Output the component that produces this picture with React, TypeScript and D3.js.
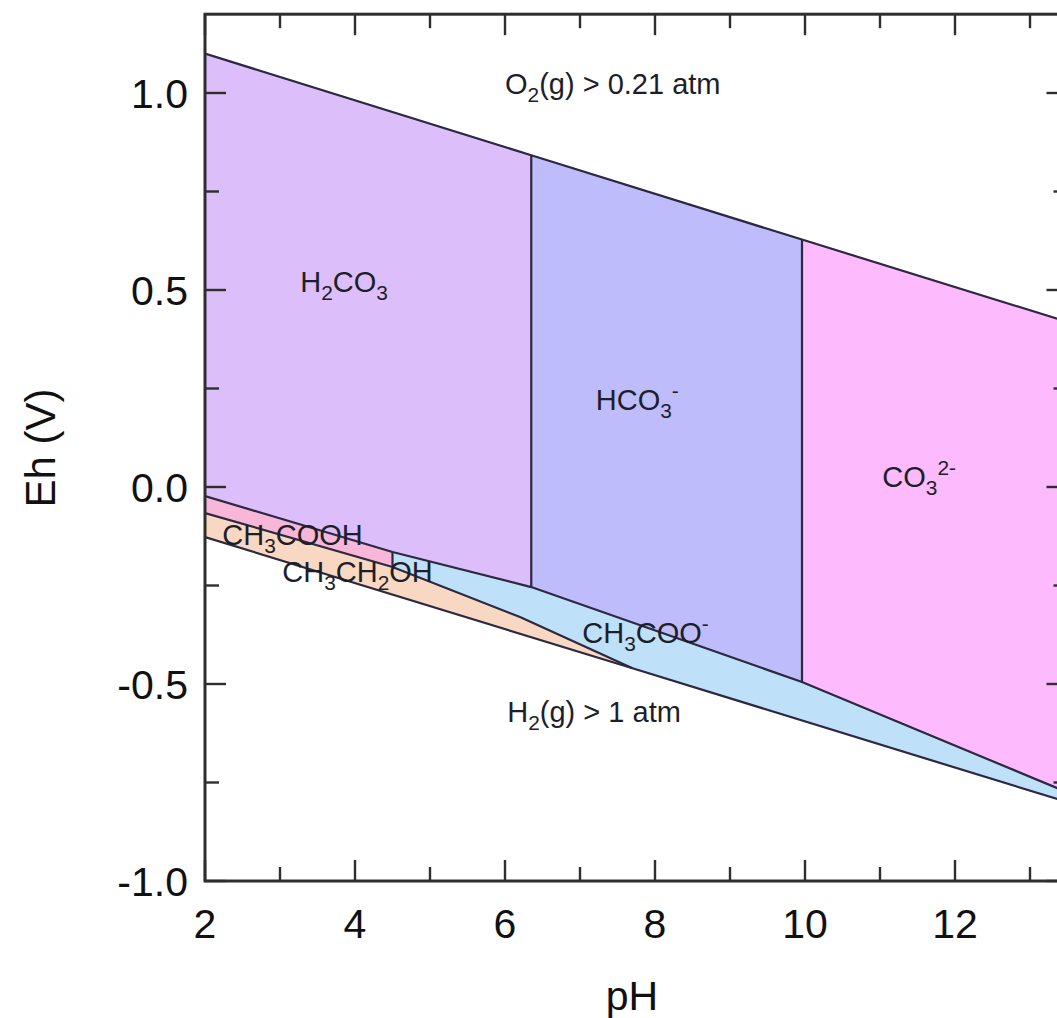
import React from "react";
import * as d3 from "d3";

const W = 1057;
const H = 1018;

// axes
const pHDomain: [number, number] = [2, 13.5];
const EhDomain: [number, number] = [-1.0, 1.2];
const xMajorTicks = [2, 4, 6, 8, 10, 12];
const xMinorTicks = [3, 5, 7, 9, 11, 13];
const yMajorTicks = [-1.0, -0.5, 0.0, 0.5, 1.0];
const yMinorTicks = [-0.75, -0.25, 0.25, 0.75];
const xTitle = "pH";
const yTitle = "Eh (V)";

// boundaries [pH, Eh]
const o2Line: [number, number][] = [[2, 1.1], [6.35, 0.842], [9.96, 0.628], [13.5, 0.419]];
const h2Line: [number, number][] = [[2, -0.127], [7.7, -0.46], [13.5, -0.8]];
const carbonateOrganic: [number, number][] = [[2, -0.023], [4.5, -0.165], [6.35, -0.254], [9.96, -0.495], [13.5, -0.775]];
const acidEthanol: [number, number][] = [[2, -0.066], [4.5, -0.203], [6.2, -0.33], [7.7, -0.46]];

// species fields
const speciesNames = ["H2CO3", "HCO3-", "CO3 2-", "CH3COOH", "CH3CH2OH", "CH3COO-"];
const speciesColors = ["#dcbefa", "#bebcfa", "#fdbafc", "#f8b6d8", "#f8d8c2", "#bee0f8"];

type Part = { t: string; s?: "sub" | "sup" };
// labels: parts, pH (start), Eh (baseline)
const labelParts: Part[][] = [
  [{ t: "O" }, { t: "2", s: "sub" }, { t: "(g) > 0.21 atm" }],
  [{ t: "H" }, { t: "2", s: "sub" }, { t: "CO" }, { t: "3", s: "sub" }],
  [{ t: "HCO" }, { t: "3", s: "sub" }, { t: "-", s: "sup" }],
  [{ t: "CO" }, { t: "3", s: "sub" }, { t: "2-", s: "sup" }],
  [{ t: "CH" }, { t: "3", s: "sub" }, { t: "COOH" }],
  [{ t: "CH" }, { t: "3", s: "sub" }, { t: "CH" }, { t: "2", s: "sub" }, { t: "OH" }],
  [{ t: "CH" }, { t: "3", s: "sub" }, { t: "COO" }, { t: "-", s: "sup" }],
  [{ t: "H" }, { t: "2", s: "sub" }, { t: "(g) > 1 atm" }],
];
const labelPH = [6.0, 3.27, 7.21, 11.03, 2.23, 3.03, 7.03, 6.03];
const labelEh = [0.997, 0.495, 0.195, 0.0, -0.147, -0.241, -0.396, -0.596];

const x = d3.scaleLinear().domain(pHDomain).range([205, 1067.5]);
const y = d3.scaleLinear().domain(EhDomain).range([881, 14.2]);

const line = d3
  .line<[number, number]>()
  .x((d) => x(d[0]))
  .y((d) => y(d[1]));

const rev = (a: [number, number][]) => a.slice().reverse();

const polygons: [number, number][][] = [
  [...o2Line.slice(0, 2), ...rev(carbonateOrganic.slice(0, 3))],
  [...o2Line.slice(1, 3), ...rev(carbonateOrganic.slice(2, 4))],
  [...o2Line.slice(2, 4), ...rev(carbonateOrganic.slice(3, 5))],
  [...carbonateOrganic.slice(0, 2), ...rev(acidEthanol.slice(0, 2))],
  [...acidEthanol, ...rev(h2Line.slice(0, 2))],
  [...carbonateOrganic.slice(1, 5), ...rev(h2Line.slice(1, 3)), ...rev(acidEthanol.slice(1, 4))],
];

const boundaryLines: [number, number][][] = [
  o2Line,
  h2Line,
  carbonateOrganic,
  acidEthanol,
  [carbonateOrganic[1], acidEthanol[1]],
  [o2Line[1], carbonateOrganic[2]],
  [o2Line[2], carbonateOrganic[3]],
];

const FONT = "'Liberation Sans', Arial, Helvetica, sans-serif";

function ChemLabel({ parts, px, py, size }: { parts: Part[]; px: number; py: number; size: number }) {
  const small = size * 0.72;
  let cur = 0;
  const spans = parts.map((p, i) => {
    const target = p.s === "sub" ? size * 0.28 : p.s === "sup" ? -size * 0.42 : 0;
    const dy = target - cur;
    cur = target;
    return (
      <tspan key={i} dy={dy} fontSize={p.s ? small : size}>
        {p.t}
      </tspan>
    );
  });
  return (
    <text x={px} y={py} fontFamily={FONT} fill="#1e1e2a">
      {spans}
    </text>
  );
}

export default function App() {
  const [x0, x1] = x.range();
  const [yb, yt] = y.range();
  const axisColor = "#2e2e2e";
  const major = 21;
  const minor = 14;
  return (
    <svg
      width={W}
      height={H}
      style={{ position: "absolute", left: 0, top: 0, background: "#fff" }}
      xmlns="http://www.w3.org/2000/svg"
    >
      <defs>
        <clipPath id="plotClip">
          <rect x={x0} y={yt} width={x1 - x0} height={yb - yt} />
        </clipPath>
      </defs>
      <rect x={0} y={0} width={W} height={H} fill="#fff" />
      <g clipPath="url(#plotClip)">
        {polygons.map((p, i) => (
          <path key={speciesNames[i]} d={line(p) + "Z"} fill={speciesColors[i]} stroke="none" />
        ))}
        {boundaryLines.map((l, i) => (
          <path key={i} d={line(l) ?? ""} fill="none" stroke="#2c2840" strokeWidth={2.2} />
        ))}
      </g>

      {labelParts.map((parts, i) => (
        <ChemLabel key={i} parts={parts} px={x(labelPH[i])} py={y(labelEh[i])} size={29} />
      ))}

      {/* ticks */}
      <g stroke={axisColor} strokeWidth={2.4}>
        {xMajorTicks.map((t) => (
          <g key={"xM" + t}>
            <line x1={x(t)} x2={x(t)} y1={yb} y2={yb - major} />
            <line x1={x(t)} x2={x(t)} y1={yt} y2={yt + major} />
          </g>
        ))}
        {xMinorTicks.map((t) => (
          <g key={"xm" + t}>
            <line x1={x(t)} x2={x(t)} y1={yb} y2={yb - minor} />
            <line x1={x(t)} x2={x(t)} y1={yt} y2={yt + minor} />
          </g>
        ))}
        {yMajorTicks.map((t) => (
          <g key={"yM" + t}>
            <line x1={x0} x2={x0 + major} y1={y(t)} y2={y(t)} />
            <line x1={x1} x2={x1 - major} y1={y(t)} y2={y(t)} />
          </g>
        ))}
        {yMinorTicks.map((t) => (
          <g key={"ym" + t}>
            <line x1={x0} x2={x0 + minor} y1={y(t)} y2={y(t)} />
            <line x1={x1} x2={x1 - minor} y1={y(t)} y2={y(t)} />
          </g>
        ))}
      </g>
      <rect x={x0} y={yt} width={x1 - x0} height={yb - yt} fill="none" stroke={axisColor} strokeWidth={3} />

      {/* tick labels */}
      {xMajorTicks.map((t) => (
        <text key={"xl" + t} x={x(t)} y={938} textAnchor="middle" fontFamily={FONT} fontSize={41} fill="#111">
          {String(t)}
        </text>
      ))}
      {yMajorTicks.map((t) => (
        <text
          key={"yl" + t}
          x={188}
          y={y(t)}
          dy="0.36em"
          textAnchor="end"
          fontFamily={FONT}
          fontSize={41}
          fill="#111"
        >
          {d3.format(".1f")(t).replace("−", "-")}
        </text>
      ))}
      <text x={632} y={1010} textAnchor="middle" fontFamily={FONT} fontSize={41} fill="#111">
        {xTitle}
      </text>
      <text
        transform={`translate(55, ${448}) rotate(-90)`}
        textAnchor="middle"
        fontFamily={FONT}
        fontSize={42}
        fill="#111"
      >
        {yTitle}
      </text>
    </svg>
  );
}
